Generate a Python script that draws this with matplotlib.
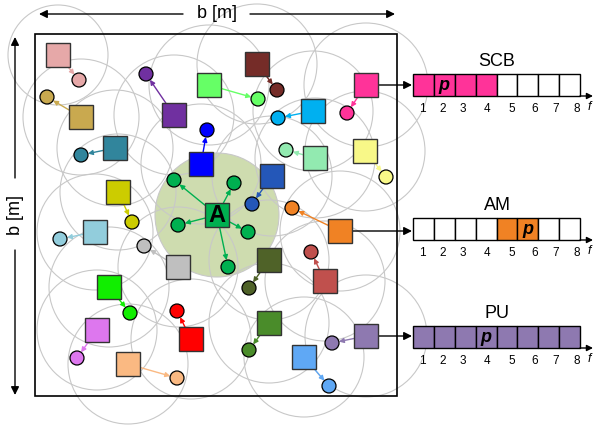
import numpy as np
import matplotlib
matplotlib.use('Agg')
from matplotlib import pyplot as plt
from matplotlib.patches import Rectangle, Circle

plt.rcParams['font.family'] = ['Liberation Sans', 'DejaVu Sans']

# transmitters (squares) and their receivers (circles), pixel coords of the picture
tx_x = [58, 81, 174, 209, 257, 115, 201, 272, 118, 366, 313, 315, 365, 340, 95, 178, 109, 191, 97, 128, 269, 269, 325, 366, 304]
tx_y = [55, 117, 115, 85, 64, 148, 164, 176, 192, 85, 111, 158, 151, 231, 232, 267, 287, 339, 330, 364, 260, 323, 281, 336, 357]
rx_x = [79, 47, 146, 258, 277, 81, 207, 252, 132, 347, 278, 286, 386, 292, 60, 144, 130, 177, 77, 177, 249, 249, 311, 332, 329]
rx_y = [80, 97, 74, 99, 90, 155, 130, 204, 222, 113, 118, 150, 177, 208, 239, 246, 313, 311, 358, 378, 288, 350, 252, 343, 386]
colors = ['#e6a8a8', '#c9a94f', '#7030a0', '#66ff66', '#752c28', '#31859c', '#0000ff', '#2457b8',
          '#cccc00', '#ff3399', '#00b0f0', '#92eab0', '#f8f888', '#f08224', '#92cddc', '#bfbfbf',
          '#11ee00', '#ff0000', '#dd77ee', '#fab982', '#4f6228', '#4a8c2a', '#c0504d', '#8e79b0', '#5fa8f5']
ranges = [50, 58, 60, 60, 60, 58, 60, 60, 58, 62, 60, 60, 60, 60, 58, 60, 60, 60, 60, 60, 60, 60, 60, 61, 60]

# node A and its receivers
a_x, a_y, a_range = 217, 215, 62
a_rx_x = [174, 234, 178, 248, 228]
a_rx_y = [180, 183, 225, 232, 267]

# spectrum bars
bar_names = ['SCB', 'AM', 'PU']
bar_src = [9, 13, 23]
bar_top = [74, 218, 326]
bar_fill = [[1, 1, 1, 1, 0, 0, 0, 0], [0, 0, 0, 0, 1, 1, 0, 0], [1, 1, 1, 1, 1, 1, 1, 1]]
bar_p = [2, 6, 4]
freq_labels = ['1', '2', '3', '4', '5', '6', '7', '8']
freq_lab_x = [422, 443, 463, 487, 512, 535, 556, 577]

sq = 24   # square size
cr = 7    # circle radius

fig = plt.figure(figsize=(5.94, 4.32), dpi=100)
ax = fig.add_axes([0, 0, 1, 1])
ax.set_xlim(0, 594)
ax.set_ylim(432, 0)
ax.axis('off')


def edge_point(x0, y0, x1, y1, hw):
    # where the ray from (x0,y0) to (x1,y1) leaves a square of half width hw
    dx, dy = x1 - x0, y1 - y0
    t = min(hw / abs(dx) if dx else 1e9, hw / abs(dy) if dy else 1e9)
    return x0 + dx * t, y0 + dy * t


def link(x0, y0, x1, y1, color):
    sx, sy = edge_point(x0, y0, x1, y1, sq / 2)
    d = np.hypot(x1 - x0, y1 - y0)
    ex, ey = x1 - (x1 - x0) / d * cr, y1 - (y1 - y0) / d * cr
    ax.annotate('', xy=(ex, ey), xytext=(sx, sy),
                arrowprops=dict(arrowstyle='-|>', color=color, lw=1, mutation_scale=7,
                                shrinkA=0, shrinkB=0), zorder=4)


#big green range of A
ax.add_patch(Circle((a_x, a_y), a_range, facecolor='#cedcaf', edgecolor='#c8c8c8', lw=0.8, zorder=1))

# grey transmission ranges
for i in range(len(tx_x)):
    ax.add_patch(Circle((tx_x[i], tx_y[i]), ranges[i], facecolor='none', edgecolor='#c8c8c8', lw=0.8, zorder=2))

# area
ax.add_patch(Rectangle((35, 34), 362, 362, facecolor='none', edgecolor='black', lw=1.2, zorder=3))

for i in range(len(tx_x)):
    link(tx_x[i], tx_y[i], rx_x[i], rx_y[i], colors[i])
    ax.add_patch(Rectangle((tx_x[i] - sq / 2, tx_y[i] - sq / 2), sq, sq, facecolor=colors[i],
                           edgecolor='#333333', lw=1, zorder=5))
    ax.add_patch(Circle((rx_x[i], rx_y[i]), cr, facecolor=colors[i], edgecolor='black', lw=0.9, zorder=5))

for i in range(len(a_rx_x)):
    link(a_x, a_y, a_rx_x[i], a_rx_y[i], '#00b050')
    ax.add_patch(Circle((a_rx_x[i], a_rx_y[i]), cr, facecolor='#00b050', edgecolor='black', lw=0.9, zorder=5))
ax.add_patch(Rectangle((a_x - sq / 2, a_y - sq / 2), sq, sq, facecolor='#00b050', edgecolor='#333333', lw=1, zorder=5))
ax.text(a_x, a_y + 1, 'A', ha='center', va='center', fontsize=17, fontweight='bold', zorder=6)

# dimension arrows
ah = dict(arrowstyle='-|>', color='black', lw=1, mutation_scale=12, shrinkA=0, shrinkB=0)
ax.annotate('', xy=(39, 14), xytext=(183, 14), arrowprops=ah)
ax.annotate('', xy=(395, 14), xytext=(250, 14), arrowprops=ah)
ax.text(217, 14, 'b [m]', ha='center', va='center', fontsize=13)
ax.annotate('', xy=(15, 37), xytext=(15, 178), arrowprops=ah)
ax.annotate('', xy=(15, 395), xytext=(15, 250), arrowprops=ah)
ax.text(15, 215, 'b [m]', ha='center', va='center', fontsize=13, rotation=90)

# spectrum occupancy
cw = 167 / 8
for b in range(len(bar_names)):
    top = bar_top[b]
    src = bar_src[b]
    ax.annotate('', xy=(412, tx_y[src]), xytext=(tx_x[src] + sq / 2, tx_y[src]), arrowprops=ah)
    for k in range(8):
        fc = colors[src] if bar_fill[b][k] else 'white'
        ax.add_patch(Rectangle((413 + k * cw, top), cw, 22, facecolor=fc, edgecolor='black', lw=1, zorder=3))
        ax.text(freq_lab_x[k], top + 35, freq_labels[k], ha='center', va='center', fontsize=8.5)
    ax.text(413 + (bar_p[b] - 0.5) * cw, top + 11, 'p', ha='center', va='center', fontsize=13,
            fontweight='bold', fontstyle='italic', zorder=4)
    ax.annotate('', xy=(593, top + 22), xytext=(580, top + 22),
                arrowprops=dict(arrowstyle='-|>', color='black', lw=1, mutation_scale=9, shrinkA=0, shrinkB=0))
    ax.text(589, top + 33, 'f', ha='center', va='center', fontsize=9, fontstyle='italic')
    ax.text(497, top - 12, bar_names[b], ha='center', va='center', fontsize=13)

fig.savefig('out.png', dpi=100)
